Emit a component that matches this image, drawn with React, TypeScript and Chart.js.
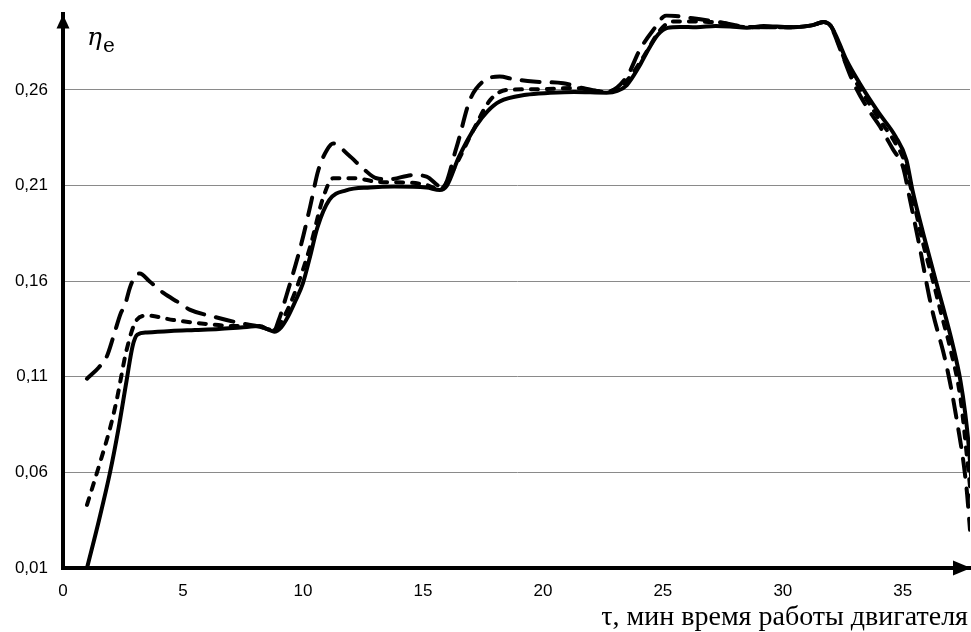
import { useEffect, useRef } from "react";
import { Chart, registerables } from "chart.js";

Chart.register(...registerables);

const X_TICKS = [0, 5, 10, 15, 20, 25, 30, 35];
const Y_TICKS = [0.01, 0.06, 0.11, 0.16, 0.21, 0.26];
const X_MIN = 0;
const X_MAX = 37.8;
const Y_MIN = 0.01;
const Y_MAX = 0.3;

const X_TITLE = "τ, мин время работы двигателя";
const Y_TITLE_MAIN = "η";
const Y_TITLE_SUB = "e";

const SOLID_X = [1.0, 1.5, 1.96, 2.3, 2.65, 2.9, 3.1, 3.5, 4.5, 5.5, 6.5, 7.4, 8.2, 8.5, 8.8, 9.1, 9.4, 9.7, 10.0, 10.3, 10.6, 11.1, 11.8, 12.8, 13.8, 15.15, 15.7, 16.0, 16.5, 17.2, 17.7, 18.2, 19.3, 20.3, 21.3, 22.65, 23.1, 23.5, 24.0, 24.3, 24.8, 25.2, 25.7, 26.4, 27.2, 27.8, 28.5, 29.2, 30.3, 31.2, 31.7, 32.0, 32.3, 32.65, 33.2, 34.0, 34.7, 35.15, 35.4, 35.85, 36.4, 36.75, 37.1, 37.4, 37.6, 37.75, 38.0];
const SOLID_Y = [0.01, 0.035, 0.06, 0.082, 0.108, 0.126, 0.132, 0.1332, 0.134, 0.1345, 0.135, 0.1358, 0.1365, 0.135, 0.1336, 0.136, 0.142, 0.15, 0.159, 0.173, 0.188, 0.2025, 0.2075, 0.209, 0.2095, 0.209, 0.2077, 0.21, 0.225, 0.241, 0.249, 0.254, 0.2575, 0.2585, 0.259, 0.2586, 0.2595, 0.2626, 0.272, 0.279, 0.289, 0.2925, 0.293, 0.2928, 0.2935, 0.2932, 0.2925, 0.2935, 0.2928, 0.2938, 0.2955, 0.2935, 0.286, 0.2757, 0.2635, 0.248, 0.2356, 0.2234, 0.2077, 0.185, 0.159, 0.143, 0.1257, 0.108, 0.091, 0.0734, 0.03];

const SHORT_X = [1.0, 1.54, 2.0, 2.24, 2.65, 3.07, 3.5, 4.6, 6.0, 7.1, 8.2, 8.5, 8.8, 9.1, 9.6, 10.3, 10.85, 11.26, 12.2, 13.07, 14.46, 15.15, 15.7, 16.26, 17.1, 17.8, 18.5, 19.9, 21.3, 22.65, 23.5, 24.2, 24.9, 25.4, 26.25, 27.5, 28.5, 30.3, 31.2, 31.7, 32.0, 32.3, 32.7, 33.3, 34.0, 34.7, 35.1, 35.4, 35.8, 36.26, 36.6, 36.96, 37.4, 37.7, 37.9];
const SHORT_Y = [0.043, 0.065, 0.085, 0.098, 0.124, 0.1397, 0.142, 0.1397, 0.1376, 0.1366, 0.1365, 0.135, 0.1345, 0.139, 0.152, 0.178, 0.204, 0.2138, 0.2138, 0.212, 0.2115, 0.2103, 0.208, 0.2182, 0.239, 0.2547, 0.26, 0.2604, 0.261, 0.259, 0.265, 0.2775, 0.2915, 0.2958, 0.2958, 0.295, 0.2928, 0.2928, 0.2938, 0.2955, 0.2935, 0.285, 0.272, 0.259, 0.245, 0.232, 0.2215, 0.205, 0.182, 0.16, 0.143, 0.1257, 0.099, 0.065, 0.04];

const LONG_X = [1.0, 1.5, 1.82, 2.1, 2.4, 2.58, 2.8, 3.0, 3.2, 3.6, 4.2, 4.8, 5.3, 6.26, 7.4, 8.2, 8.5, 8.8, 9.0, 9.3, 9.9, 10.3, 10.64, 11.0, 11.26, 11.9, 12.5, 13.07, 13.6, 14.6, 15.15, 15.6, 15.8, 16.4, 16.96, 17.5, 18.2, 18.76, 19.6, 20.85, 21.7, 22.65, 23.5, 24.04, 24.6, 25.15, 26.25, 27.5, 28.5, 30.3, 31.2, 31.7, 32.0, 32.4, 32.9, 33.5, 34.04, 34.6, 35.0, 35.3, 35.7, 36.1, 36.26, 36.8, 37.2, 37.65, 37.8];
const LONG_Y = [0.109, 0.115, 0.1205, 0.131, 0.143, 0.1475, 0.157, 0.1625, 0.164, 0.16, 0.1537, 0.149, 0.145, 0.1415, 0.138, 0.1362, 0.135, 0.1345, 0.14, 0.152, 0.178, 0.199, 0.218, 0.2286, 0.232, 0.226, 0.219, 0.2138, 0.2133, 0.2155, 0.2147, 0.2103, 0.2085, 0.23, 0.2548, 0.2644, 0.267, 0.2657, 0.2644, 0.2635, 0.2609, 0.259, 0.267, 0.281, 0.2914, 0.299, 0.2975, 0.2952, 0.293, 0.2928, 0.2938, 0.2955, 0.293, 0.281, 0.265, 0.251, 0.241, 0.2287, 0.22, 0.2025, 0.178, 0.152, 0.143, 0.117, 0.091, 0.0525, 0.03];

const toPoints = (xs: number[], ys: number[]) => xs.map((x, i) => ({ x, y: ys[i] }));

const decorPlugin = {
  id: "decor",
  afterDraw(chart: any) {
    const { ctx, chartArea } = chart;
    const { left, top, bottom } = chartArea;
    ctx.save();
    ctx.fillStyle = "#000";
    // y axis arrow
    ctx.beginPath();
    ctx.moveTo(left, top + 1);
    ctx.lineTo(left - 6.5, top + 15);
    ctx.lineTo(left + 6.5, top + 15);
    ctx.closePath();
    ctx.fill();
    // x axis arrow
    ctx.beginPath();
    ctx.moveTo(chart.width, bottom);
    ctx.lineTo(chart.width - 18, bottom - 7.5);
    ctx.lineTo(chart.width - 18, bottom + 7.5);
    ctx.closePath();
    ctx.fill();
    // y title
    ctx.textBaseline = "alphabetic";
    ctx.textAlign = "left";
    ctx.font = "italic 25px 'DejaVu Serif'";
    ctx.fillText(Y_TITLE_MAIN, left + 24, top + 31);
    const w = ctx.measureText(Y_TITLE_MAIN).width;
    ctx.font = "20px 'DejaVu Serif'";
    ctx.fillText(Y_TITLE_SUB, left + 24 + w + 1, top + 38);
    // x title
    ctx.textAlign = "right";
    ctx.font = "28px 'Liberation Serif'";
    ctx.fillText(X_TITLE, chart.width - 3, chart.height - 7);
    ctx.restore();
  },
};

export default function App() {
  const ref = useRef<HTMLCanvasElement>(null);
  useEffect(() => {
    if (!ref.current) return;
    const common = {
      fill: false,
      borderColor: "#000",
      borderWidth: 4,
      pointRadius: 0,
      cubicInterpolationMode: "monotone" as const,
      borderCapStyle: "round" as const,
      borderJoinStyle: "round" as const,
    };
    const chart = new Chart(ref.current, {
      type: "line",
      data: {
        datasets: [
          { ...common, label: "long", data: toPoints(LONG_X, LONG_Y), borderDash: [18, 12] },
          { ...common, label: "short", data: toPoints(SHORT_X, SHORT_Y), borderDash: [7, 9] },
          { ...common, label: "solid", data: toPoints(SOLID_X, SOLID_Y) },
        ],
      },
      options: {
        responsive: false,
        animation: false,
        layout: { padding: { top: 13.5, right: 1, left: 0, bottom: 0 } },
        plugins: { legend: { display: false }, tooltip: { enabled: false } },
        scales: {
          x: {
            type: "linear",
            min: X_MIN,
            max: X_MAX,
            afterFit: (s: any) => { s.height = 64; s.paddingLeft = 0; s.paddingRight = 0; },
            afterBuildTicks: (s: any) => { s.ticks = X_TICKS.map((v) => ({ value: v })); },
            grid: { display: false, drawTicks: false },
            border: { display: true, color: "#000", width: 4 },
            ticks: {
              padding: 13,
              color: "#000",
              font: { family: "'Liberation Sans', Arial", size: 17 },
              maxRotation: 0,
              callback: (v: any) => String(v),
            },
          },
          y: {
            type: "linear",
            min: Y_MIN,
            max: Y_MAX,
            afterFit: (s: any) => { s.width = 63; s.paddingTop = 0; s.paddingBottom = 0; },
            afterBuildTicks: (s: any) => { s.ticks = Y_TICKS.map((v) => ({ value: v })); },
            grid: { display: true, color: "#8a8a8a", lineWidth: 1, drawTicks: false },
            border: { display: true, color: "#000", width: 4 },
            ticks: {
              padding: 15,
              color: "#000",
              font: { family: "'Liberation Sans', Arial", size: 17 },
              callback: (v: any) => Number(v).toFixed(2).replace(".", ","),
            },
          },
        },
      },
      plugins: [decorPlugin],
    });
    return () => chart.destroy();
  }, []);
  return (
    <canvas
      ref={ref}
      width={971}
      height={632}
      style={{ position: "absolute", left: 0, top: 0, width: 971, height: 632 }}
    />
  );
}
